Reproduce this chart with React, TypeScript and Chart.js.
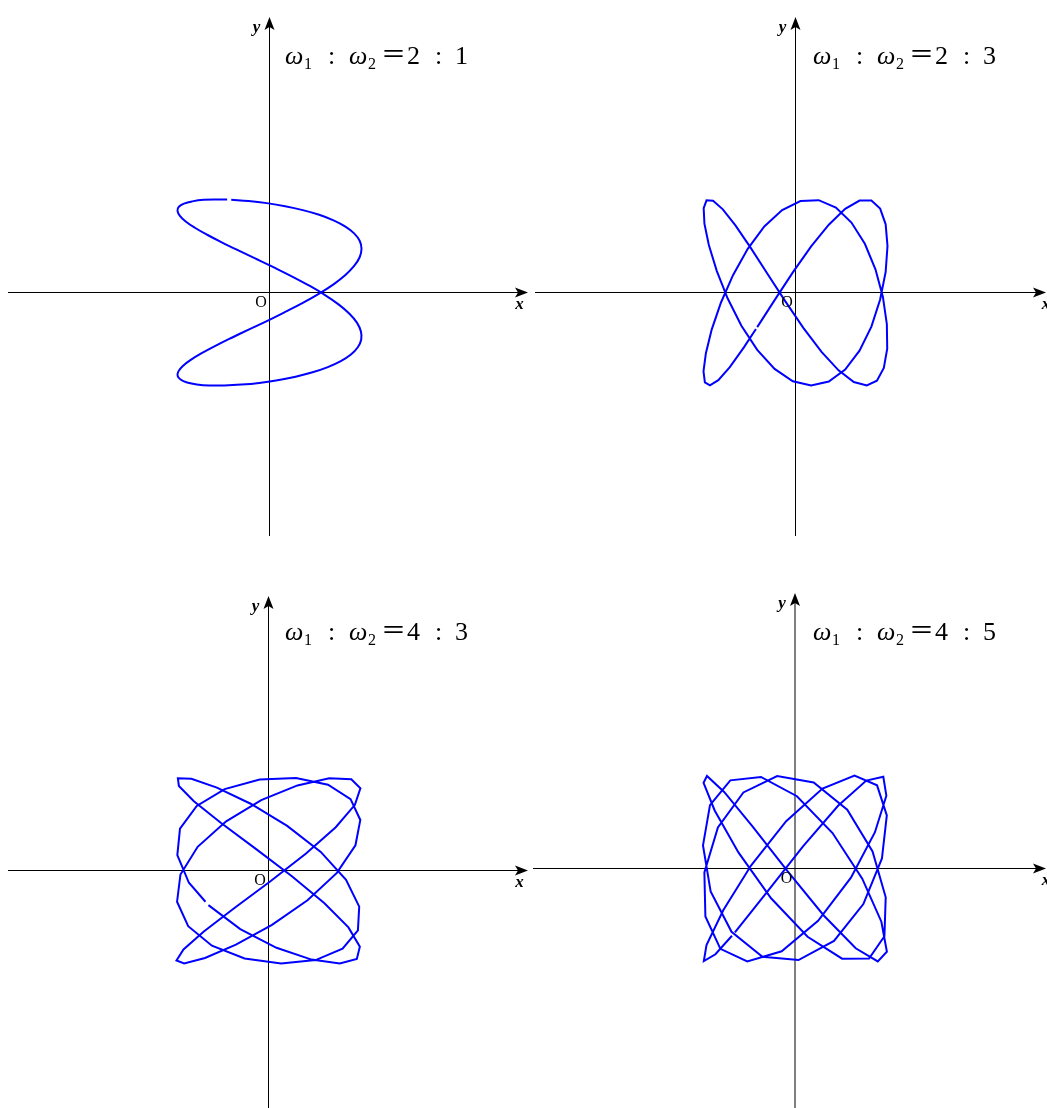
import React, { useEffect, useRef } from "react";
import { Chart, registerables } from "chart.js";

Chart.register(...registerables);

// Frequency ratios ω1 : ω2 shown in the four panels
const omega1 = [2, 2, 4, 4];
const omega2 = [1, 3, 3, 5];

// Lissajous figure, ω1 : ω2 = 2 : 1 (unit amplitude)
const curve21X = [-0.416, -0.227, -0.029, 0.170, 0.362, 0.540, 0.696, 0.825, 0.920, 0.980, 1.000, 0.980, 0.920, 0.825, 0.696, 0.540, 0.362, 0.170, -0.029, -0.227, -0.416, -0.588, -0.737, -0.856, -0.942, -0.990, -0.998, -0.967, -0.896, -0.790, -0.653, -0.490, -0.307, -0.112, 0.087, 0.283, 0.468, 0.634, 0.775, 0.885, 0.960, 0.997, 0.993, 0.950, 0.869, 0.754, 0.608, 0.439, 0.252, 0.054, -0.145, -0.339, -0.519, -0.678, -0.811, -0.911, -0.974, -1.000, -0.985, -0.930, -0.839, -0.714, -0.561, -0.460];
const curve21Y = [0.997, 0.984, 0.961, 0.928, 0.886, 0.836, 0.776, 0.709, 0.636, 0.556, 0.470, 0.379, 0.285, 0.188, 0.088, -0.011, -0.111, -0.209, -0.307, -0.399, -0.489, -0.574, -0.653, -0.725, -0.790, -0.848, -0.897, -0.936, -0.967, -0.988, -0.999, -0.999, -0.990, -0.972, -0.943, -0.905, -0.858, -0.802, -0.738, -0.667, -0.589, -0.505, -0.417, -0.324, -0.228, -0.130, -0.030, 0.070, 0.169, 0.267, 0.362, 0.453, 0.540, 0.621, 0.696, 0.764, 0.825, 0.878, 0.922, 0.956, 0.980, 0.996, 1.000, 0.999];

// ω1 : ω2 = 2 : 3
const curve23X = [-0.416, -0.227, -0.029, 0.170, 0.362, 0.540, 0.696, 0.825, 0.920, 0.980, 1.000, 0.980, 0.920, 0.825, 0.696, 0.540, 0.362, 0.170, -0.029, -0.227, -0.416, -0.588, -0.737, -0.856, -0.942, -0.990, -0.998, -0.967, -0.896, -0.790, -0.653, -0.490, -0.307, -0.112, 0.087, 0.283, 0.468, 0.634, 0.775, 0.885, 0.960, 0.997, 0.993, 0.950, 0.869, 0.754, 0.608, 0.439, 0.252, 0.054, -0.145, -0.339, -0.519, -0.678, -0.811, -0.911, -0.974, -1.000, -0.985, -0.930, -0.839, -0.714, -0.561, -0.430];
const curve23Y = [-0.372, -0.082, 0.216, 0.495, 0.729, 0.899, 0.988, 0.989, 0.902, 0.733, 0.500, 0.222, -0.076, -0.367, -0.626, -0.828, -0.957, -1.000, -0.954, -0.822, -0.617, -0.357, -0.065, 0.233, 0.510, 0.740, 0.906, 0.991, 0.987, 0.894, 0.722, 0.485, 0.205, -0.093, -0.383, -0.639, -0.837, -0.962, -1.000, -0.948, -0.812, -0.603, -0.341, -0.048, 0.249, 0.524, 0.752, 0.914, 0.993, 0.984, 0.886, 0.710, 0.470, 0.189, -0.110, -0.399, -0.652, -0.847, -0.966, -0.999, -0.943, -0.802, -0.590, -0.393];

// ω1 : ω2 = 4 : 3
const curve43X = [-0.653, -0.307, 0.087, 0.468, 0.775, 0.960, 0.993, 0.869, 0.608, 0.251, -0.145, -0.519, -0.811, -0.974, -0.985, -0.838, -0.561, -0.194, 0.203, 0.568, 0.843, 0.986, 0.972, 0.805, 0.512, 0.137, -0.260, -0.615, -0.873, -0.994, -0.957, -0.770, -0.460, -0.079, 0.315, 0.660, 0.900, 0.999, 0.939, 0.731, 0.408, 0.021, -0.370, -0.703, -0.924, -1.000, -0.917, -0.690, -0.354, 0.038, 0.424, 0.743, 0.945, 0.998, 0.892, 0.647, 0.299, -0.096, -0.476, -0.780, -0.962, -0.991, -0.865, -0.685];
const curve43Y = [-0.372, -0.630, -0.831, -0.958, -1.000, -0.951, -0.819, -0.612, -0.352, -0.059, 0.238, 0.514, 0.744, 0.909, 0.991, 0.986, 0.891, 0.718, 0.480, 0.200, -0.099, -0.388, -0.643, -0.840, -0.963, -1.000, -0.946, -0.809, -0.599, -0.336, -0.043, 0.255, 0.529, 0.756, 0.915, 0.993, 0.982, 0.883, 0.706, 0.465, 0.183, -0.116, -0.404, -0.656, -0.849, -0.968, -0.999, -0.941, -0.798, -0.585, -0.320, -0.026, 0.271, 0.543, 0.767, 0.922, 0.995, 0.979, 0.875, 0.694, 0.450, 0.166, -0.132, -0.336];

// ω1 : ω2 = 4 : 5
const curve45X = [-0.653, -0.307, 0.087, 0.468, 0.775, 0.960, 0.993, 0.869, 0.608, 0.251, -0.145, -0.519, -0.811, -0.974, -0.985, -0.838, -0.561, -0.194, 0.203, 0.568, 0.843, 0.986, 0.972, 0.805, 0.512, 0.137, -0.260, -0.615, -0.873, -0.994, -0.957, -0.770, -0.460, -0.079, 0.315, 0.660, 0.900, 0.999, 0.939, 0.731, 0.408, 0.021, -0.370, -0.703, -0.924, -1.000, -0.917, -0.690, -0.354, 0.038, 0.424, 0.743, 0.945, 0.998, 0.892, 0.647, 0.299, -0.096, -0.476, -0.780, -0.962, -0.991, -0.865, -0.685];
const curve45Y = [-0.688, -0.257, 0.238, 0.674, 0.945, 0.986, 0.783, 0.390, -0.099, -0.563, -0.890, -1.000, -0.864, -0.516, -0.043, 0.441, 0.818, 0.994, 0.925, 0.632, 0.183, -0.310, -0.728, -0.968, -0.970, -0.734, -0.320, 0.173, 0.624, 0.921, 0.995, 0.823, 0.450, -0.032, -0.508, -0.858, -0.999, -0.895, -0.572, -0.109, 0.381, 0.777, 0.984, 0.948, 0.682, 0.248, -0.247, -0.681, -0.948, -0.984, -0.778, -0.382, 0.108, 0.571, 0.894, 0.999, 0.859, 0.509, 0.034, -0.449, -0.823, -0.995, -0.922, -0.723];

const SERIF = '"Liberation Serif", "Times New Roman", serif';
const UNIT_X = 92; // px per unit amplitude, horizontal
const UNIT_Y = 93; // px per unit amplitude, vertical

type PanelSpec = {
  left: number;
  top: number;
  width: number;
  height: number;
  ox: number;
  oy: number;
  xFrom: number;
  xTip: number;
  yTip: number;
  yTo: number;
  xLabelX: number;
  titleX: number;
  titleY: number;
  xs: number[];
  ys: number[];
  smooth: boolean;
  w1: number;
  w2: number;
};

const panels: PanelSpec[] = [
  { left: 0, top: 0, width: 530, height: 560, ox: 269.5, oy: 292.5, xFrom: 8, xTip: 528, yTip: 17, yTo: 536, xLabelX: 519.5, titleX: 285, titleY: 63.5, xs: curve21X, ys: curve21Y, smooth: true, w1: omega1[0], w2: omega2[0] },
  { left: 530, top: 0, width: 517, height: 560, ox: 265.5, oy: 292.5, xFrom: 5, xTip: 516, yTip: 17, yTo: 536, xLabelX: 516, titleX: 283, titleY: 63.5, xs: curve23X, ys: curve23Y, smooth: false, w1: omega1[1], w2: omega2[1] },
  { left: 0, top: 560, width: 530, height: 548, ox: 268.5, oy: 310.5, xFrom: 8, xTip: 528, yTip: 36, yTo: 548, xLabelX: 519.5, titleX: 285, titleY: 80, xs: curve43X, ys: curve43Y, smooth: false, w1: omega1[2], w2: omega2[2] },
  { left: 530, top: 560, width: 517, height: 548, ox: 265, oy: 308.5, xFrom: 3, xTip: 516, yTip: 33, yTo: 548, xLabelX: 516, titleX: 283, titleY: 80, xs: curve45X, ys: curve45Y, smooth: false, w1: omega1[3], w2: omega2[3] },
];

function drawTitle(ctx: CanvasRenderingContext2D, x: number, y: number, a: number, b: number) {
  ctx.save();
  ctx.fillStyle = "#000";
  ctx.textAlign = "left";
  ctx.textBaseline = "alphabetic";
  const it = `italic 26px ${SERIF}`;
  const rm = `26px ${SERIF}`;
  const sb = `16px ${SERIF}`;
  const put = (s: string, font: string, dx: number, dy = 0) => {
    ctx.font = font;
    ctx.fillText(s, x + dx, y + dy);
  };
  put("ω", it, 0);
  put("1", sb, 19, 5);
  put(":", rm, 43);
  put("ω", it, 64);
  put("2", sb, 83, 5);
  put("＝", `25px "Noto Sans CJK SC"`, 96, -1);
  put(String(a), rm, 122);
  put(":", rm, 150);
  put(String(b), rm, 170);
  ctx.restore();
}

function axesPlugin(p: PanelSpec) {
  return {
    id: "axesWithArrows",
    beforeDatasetsDraw(chart: any) {
      const ctx: CanvasRenderingContext2D = chart.ctx;
      const ox = chart.scales.x.getPixelForValue(0);
      const oy = chart.scales.y.getPixelForValue(0);
      ctx.save();
      ctx.strokeStyle = "#000";
      ctx.fillStyle = "#000";
      ctx.lineWidth = 1;
      ctx.beginPath();
      ctx.moveTo(p.xFrom, oy);
      ctx.lineTo(p.xTip - 8, oy);
      ctx.moveTo(ox, p.yTo);
      ctx.lineTo(ox, p.yTip + 8);
      ctx.stroke();
      // arrowheads
      ctx.beginPath();
      ctx.moveTo(ox, p.yTip);
      ctx.lineTo(ox - 5, p.yTip + 13);
      ctx.lineTo(ox, p.yTip + 10);
      ctx.lineTo(ox + 5, p.yTip + 13);
      ctx.closePath();
      ctx.fill();
      ctx.beginPath();
      ctx.moveTo(p.xTip, oy);
      ctx.lineTo(p.xTip - 13, oy - 5);
      ctx.lineTo(p.xTip - 10, oy);
      ctx.lineTo(p.xTip - 13, oy + 5);
      ctx.closePath();
      ctx.fill();
      ctx.restore();
    },
    afterDraw(chart: any) {
      const ctx: CanvasRenderingContext2D = chart.ctx;
      const ox = chart.scales.x.getPixelForValue(0);
      const oy = chart.scales.y.getPixelForValue(0);
      ctx.save();
      ctx.fillStyle = "#000";
      ctx.textAlign = "center";
      ctx.textBaseline = "middle";
      ctx.font = `bold italic 17px ${SERIF}`;
      ctx.fillText("y", ox - 13, p.yTip + 11);
      ctx.fillText("x", p.xLabelX, oy + 12);
      ctx.font = `16px ${SERIF}`;
      ctx.fillText("O", ox - 8.5, oy + 10.5);
      ctx.restore();
      drawTitle(ctx, p.titleX, p.titleY, p.w1, p.w2);
    },
  };
}

function LissajousPanel({ spec }: { spec: PanelSpec }) {
  const ref = useRef<HTMLCanvasElement>(null);
  useEffect(() => {
    const canvas = ref.current;
    if (!canvas) return;
    const points = spec.xs.map((x, i) => ({ x, y: spec.ys[i] }));
    const chart = new Chart(canvas, {
      type: "scatter",
      data: {
        datasets: [
          {
            data: points,
            showLine: true,
            borderColor: "#0000ff",
            borderWidth: 2,
            pointRadius: 0,
            pointHoverRadius: 0,
            tension: spec.smooth ? 0.4 : 0,
            fill: false,
          } as any,
        ],
      },
      options: {
        responsive: false,
        animation: false,
        devicePixelRatio: 1,
        events: [],
        layout: { padding: 0 },
        plugins: {
          legend: { display: false },
          tooltip: { enabled: false },
        },
        scales: {
          x: {
            type: "linear",
            display: false,
            min: -spec.ox / UNIT_X,
            max: (spec.width - spec.ox) / UNIT_X,
          },
          y: {
            type: "linear",
            display: false,
            min: -(spec.height - spec.oy) / UNIT_Y,
            max: spec.oy / UNIT_Y,
          },
        },
      },
      plugins: [axesPlugin(spec)],
    });
    return () => chart.destroy();
  }, [spec]);
  return (
    <canvas
      ref={ref}
      width={spec.width}
      height={spec.height}
      style={{ position: "absolute", left: spec.left, top: spec.top, width: spec.width, height: spec.height }}
    />
  );
}

export default function App() {
  return (
    <div>
      {panels.map((p, i) => (
        <LissajousPanel key={i} spec={p} />
      ))}
    </div>
  );
}
